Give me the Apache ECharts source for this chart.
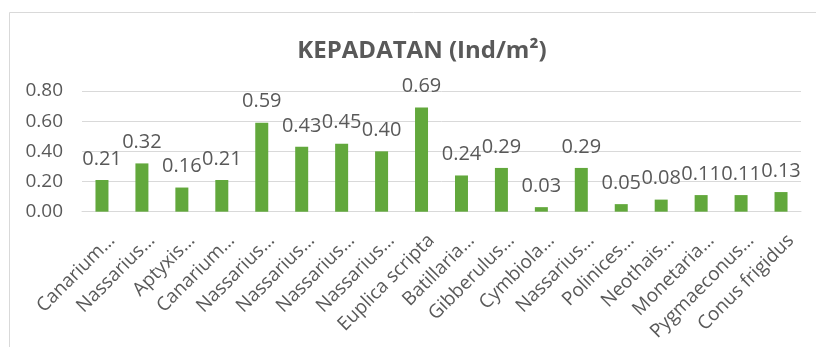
<!DOCTYPE html>
<html>
<head>
<meta charset="utf-8">
<script src="https://cdn.jsdelivr.net/npm/echarts@6/dist/echarts.min.js"></script>
<style>
  html, body { margin: 0; padding: 0; background: #ffffff; }
  #chart { width: 816px; height: 347px; }
</style>
</head>
<body>
<div id="chart"></div>
<script>
// Species names as shown on the category axis (long names shortened)
const categories = [
  'Canarium…', 'Nassarius…', 'Aptyxis…', 'Canarium…', 'Nassarius…',
  'Nassarius…', 'Nassarius…', 'Nassarius…', 'Euplica scripta', 'Batillaria…',
  'Gibberulus…', 'Cymbiola…', 'Nassarius…', 'Polinices…', 'Neothais…',
  'Monetaria…', 'Pygmaeconus…', 'Conus frigidus'
];

// Density per species (individuals per square metre)
const density = [
  0.21, 0.32, 0.16, 0.21, 0.59, 0.43, 0.45, 0.40, 0.69,
  0.24, 0.29, 0.03, 0.29, 0.05, 0.08, 0.11, 0.11, 0.13
];

// Value axis ticks
const yTicks = [0, 0.2, 0.4, 0.6, 0.8];

const FONT = 'Open Sans';
const TEXT = '#595959';
const GRID = '#d9d9d9';

const chart = echarts.init(document.getElementById('chart'), null, { renderer: 'canvas' });

chart.setOption({
  animation: false,
  backgroundColor: '#ffffff',
  title: {
    text: 'KEPADATAN (Ind/m²)',
    left: 417,
    top: 34,
    textAlign: 'center',
    textStyle: { fontFamily: FONT, fontSize: 24, fontWeight: 'bold', color: TEXT }
  },
  graphic: [{
    type: 'rect',
    shape: { x: 9.5, y: 12.5, width: 830, height: 360 },
    style: { fill: 'none', stroke: '#d9d9d9', lineWidth: 1 },
    silent: true
  }],
  grid: { left: 82, right: 15, top: 91, bottom: 135, containLabel: false },
  xAxis: {
    type: 'category',
    data: categories,
    axisLine: { show: true, lineStyle: { color: GRID, width: 1 } },
    axisTick: { show: false },
    axisLabel: {
      interval: 0,
      rotate: 45,
      margin: 16,
      verticalAlign: 'top',
      lineHeight: 28,
      fontFamily: FONT,
      fontSize: 19,
      color: TEXT
    }
  },
  yAxis: {
    type: 'value',
    min: yTicks[0],
    max: yTicks[yTicks.length - 1],
    interval: 0.2,
    axisLine: { show: false },
    axisTick: { show: false },
    splitLine: { lineStyle: { color: GRID, width: 1 } },
    axisLabel: {
      margin: 19,
      fontFamily: FONT,
      fontSize: 19,
      color: TEXT,
      formatter: v => v.toFixed(2)
    }
  },
  series: [{
    type: 'bar',
    data: density,
    barWidth: 13,
    itemStyle: { color: '#62a83c' },
    label: {
      show: true,
      position: 'top',
      distance: 11,
      fontFamily: FONT,
      fontSize: 20,
      color: TEXT,
      formatter: p => p.value.toFixed(2)
    }
  }]
});
</script>
</body>
</html>
